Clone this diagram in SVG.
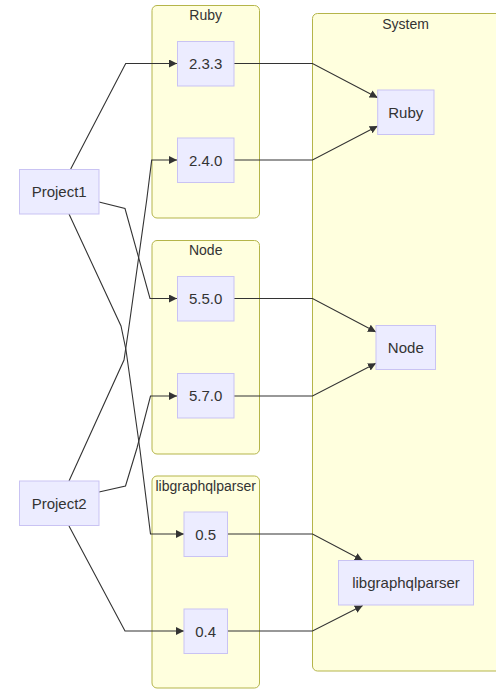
<svg xmlns="http://www.w3.org/2000/svg" width="496" height="690" viewBox="0 0 496 690">
<defs>
<style>
.cluster{fill:#ffffde;stroke:#b5b54a;stroke-width:1}
.node rect{fill:#ececff;stroke:#c9c3f3;stroke-width:1}
text{font-family:"Liberation Sans",Arial,sans-serif;fill:#333333;text-anchor:middle}
.lbl{font-size:15px}
.ttl{font-size:14px}
.edge{fill:none;stroke:#333333;stroke-width:1.1;marker-end:url(#arr)}
</style>
<marker id="arr" viewBox="0 0 10 10" refX="10" refY="5" markerWidth="8" markerHeight="8" markerUnits="userSpaceOnUse" orient="auto">
<path d="M0,0 L10,5 L0,10 z" fill="#333333"/>
</marker>
</defs>
<rect width="496" height="690" fill="#ffffff"/>
<g id="clusters">
<g id="cluster-System"><rect class="cluster" x="312.5" y="13.5" width="200" height="657.5" rx="5"/><text class="ttl" x="405.5" y="29">System</text></g>
<g id="cluster-Ruby"><rect class="cluster" x="152" y="5.5" width="107.5" height="212.5" rx="5"/><text class="ttl" x="205.7" y="20">Ruby</text></g>
<g id="cluster-Node"><rect class="cluster" x="152" y="240.5" width="107.5" height="213.5" rx="5"/><text class="ttl" x="205.7" y="255">Node</text></g>
<g id="cluster-libgraphqlparser"><rect class="cluster" x="152" y="476" width="107.5" height="212" rx="5"/><text class="ttl" x="205.7" y="491">libgraphqlparser</text></g>
</g>
<g id="connectors">
<polyline class="edge" points="70.7,169 125.7,63.5 177,63.5"/>
<polyline class="edge" points="99,202 125,208.5 150,298.5 177,298.5"/>
<polyline class="edge" points="69,214 121,326 126,350 140,450 150.5,534 184,534"/>
<polyline class="edge" points="69,481 124,360 128.5,330 146.7,200 151.7,160 177,160"/>
<polyline class="edge" points="99,492 125.5,486 137,448 150.5,396 177,396"/>
<polyline class="edge" points="69,526 125,631 184,631"/>
<polyline class="edge" points="234,63.5 312.5,63.5 377.7,97.7"/>
<polyline class="edge" points="234,160 312.5,160 377.7,126"/>
<polyline class="edge" points="234,298.5 312.5,298.5 376,332"/>
<polyline class="edge" points="234,396 312.5,396 376,363.3"/>
<polyline class="edge" points="227.7,534 312.5,534 362.7,560.5"/>
<polyline class="edge" points="227.7,631 312.5,631 362.7,605.5"/>
</g>
<g id="Project1" class="node"><rect x="19.5" y="169.5" width="79.5" height="44.5"/><text class="lbl" x="59.2" y="197">Project1</text></g>
<g id="Project2" class="node"><rect x="19.5" y="481" width="79.5" height="44.5"/><text class="lbl" x="59.2" y="508.5">Project2</text></g>
<g id="v233" class="node"><rect x="177.5" y="41.5" width="56.5" height="44.5"/><text class="lbl" x="205.7" y="69">2.3.3</text></g>
<g id="v240" class="node"><rect x="177.5" y="138" width="56.5" height="44.5"/><text class="lbl" x="205.7" y="165.5">2.4.0</text></g>
<g id="v550" class="node"><rect x="177.5" y="276.5" width="56.5" height="44.5"/><text class="lbl" x="205.7" y="304">5.5.0</text></g>
<g id="v570" class="node"><rect x="177.5" y="373.5" width="56.5" height="44.5"/><text class="lbl" x="205.7" y="401">5.7.0</text></g>
<g id="v05" class="node"><rect x="184" y="512" width="43.5" height="44.5"/><text class="lbl" x="205.7" y="539.5">0.5</text></g>
<g id="v04" class="node"><rect x="184" y="609" width="43.5" height="44.5"/><text class="lbl" x="205.7" y="636.5">0.4</text></g>
<g id="RubySys" class="node"><rect x="377.7" y="90" width="56.3" height="44.5"/><text class="lbl" x="405.8" y="117.5">Ruby</text></g>
<g id="NodeSys" class="node"><rect x="376" y="325.5" width="59.5" height="44"/><text class="lbl" x="405.8" y="353">Node</text></g>
<g id="libSys" class="node"><rect x="338.5" y="560.5" width="135" height="44.5"/><text class="lbl" x="406" y="588">libgraphqlparser</text></g>
</svg>
